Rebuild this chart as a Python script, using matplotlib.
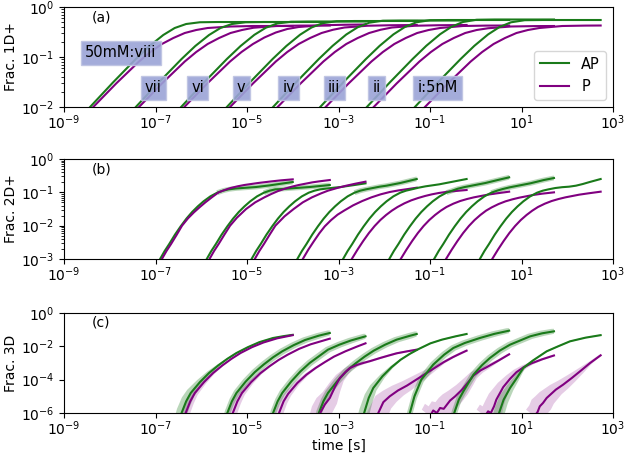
import numpy as np
import matplotlib
matplotlib.use("Agg")
import matplotlib.pyplot as plt
from matplotlib.ticker import NullLocator, LogLocator

conc = ["viii", "vii", "vi", "v", "iv", "iii", "ii", "i"]

# ---------------- panel (a): Frac. 1D+  (log10 time, log10 fraction)
A_AP_T = [
    [-8.93, -8.43, -7.93, -7.43, -7.13, -6.83, -6.58, -6.33, -6.03, -5.63, -4.00],
    [-7.93, -7.43, -6.93, -6.43, -6.13, -5.83, -5.58, -5.33, -5.03, -4.63, -3.19],
    [-6.94, -6.44, -5.94, -5.44, -5.14, -4.84, -4.59, -4.34, -4.04, -3.64, -2.41],
    [-5.94, -5.44, -4.94, -4.44, -4.14, -3.84, -3.59, -3.34, -3.04, -2.64, -1.29],
    [-4.93, -4.43, -3.93, -3.43, -3.13, -2.83, -2.58, -2.33, -2.03, -1.63, -0.20],
    [-3.90, -3.40, -2.90, -2.40, -2.10, -1.80, -1.55, -1.30, -1.00, -0.60, 0.73],
    [-2.88, -2.38, -1.88, -1.38, -1.08, -0.78, -0.53, -0.28, 0.02, 0.42, 1.71],
    [-1.83, -1.33, -0.83, -0.33, -0.03, 0.27, 0.52, 0.77, 1.07, 1.47, 2.73],
]
A_AP_Y = [
    [-2.5, -2.0, -1.51, -1.04, -0.78, -0.56, -0.42, -0.34, -0.305, -0.30, -0.30],
    [-2.5, -2.0, -1.51, -1.04, -0.78, -0.56, -0.42, -0.34, -0.305, -0.30, -0.30],
    [-2.5, -2.0, -1.51, -1.04, -0.78, -0.557, -0.415, -0.33, -0.295, -0.29, -0.29],
    [-2.5, -2.0, -1.51, -1.04, -0.78, -0.554, -0.41, -0.322, -0.285, -0.28, -0.28],
    [-2.5, -2.0, -1.51, -1.04, -0.778, -0.55, -0.405, -0.314, -0.274, -0.27, -0.27],
    [-2.5, -2.0, -1.51, -1.04, -0.776, -0.548, -0.40, -0.306, -0.264, -0.26, -0.26],
    [-2.5, -2.0, -1.51, -1.04, -0.775, -0.545, -0.395, -0.30, -0.255, -0.25, -0.25],
    [-2.5, -2.0, -1.51, -1.04, -0.776, -0.548, -0.40, -0.306, -0.264, -0.26, -0.26],
]
A_P_T = [
    [-8.86, -8.36, -7.86, -7.36, -7.11, -6.86, -6.61, -6.36, -6.11, -5.86, -5.36, -4.86, -4.00],
    [-7.86, -7.36, -6.86, -6.36, -6.11, -5.86, -5.61, -5.36, -5.11, -4.86, -4.36, -3.86, -3.19],
    [-6.87, -6.37, -5.87, -5.37, -5.12, -4.87, -4.62, -4.37, -4.12, -3.87, -3.37, -2.87, -2.41],
    [-5.87, -5.37, -4.87, -4.37, -4.12, -3.87, -3.62, -3.37, -3.12, -2.87, -2.37, -1.87, -1.29],
    [-4.83, -4.33, -3.83, -3.33, -3.08, -2.83, -2.58, -2.33, -2.08, -1.83, -1.33, -0.83, -0.20],
    [-3.78, -3.28, -2.78, -2.28, -2.03, -1.78, -1.53, -1.28, -1.03, -0.78, -0.28, 0.22, 0.73],
    [-2.73, -2.23, -1.73, -1.23, -0.98, -0.73, -0.48, -0.23, 0.02, 0.27, 0.77, 1.27, 1.71],
    [-1.61, -1.11, -0.61, -0.11, 0.14, 0.39, 0.64, 0.89, 1.14, 1.39, 1.89, 2.39, 2.73],
]
A_P_Y = [
    [-2.48, -2.0, -1.53, -1.09, -0.90, -0.74, -0.62, -0.52, -0.46, -0.42, -0.39, -0.38, -0.38],
    [-2.48, -2.0, -1.53, -1.09, -0.90, -0.74, -0.62, -0.52, -0.46, -0.415, -0.38, -0.372, -0.37],
    [-2.48, -2.0, -1.53, -1.09, -0.90, -0.74, -0.61, -0.51, -0.44, -0.40, -0.365, -0.355, -0.35],
    [-2.48, -2.0, -1.53, -1.09, -0.90, -0.74, -0.62, -0.52, -0.455, -0.41, -0.375, -0.365, -0.36],
    [-2.48, -2.0, -1.53, -1.09, -0.90, -0.74, -0.62, -0.52, -0.455, -0.41, -0.375, -0.365, -0.36],
    [-2.48, -2.0, -1.53, -1.09, -0.90, -0.74, -0.62, -0.52, -0.46, -0.42, -0.38, -0.372, -0.37],
    [-2.48, -2.0, -1.53, -1.09, -0.90, -0.74, -0.62, -0.52, -0.46, -0.425, -0.39, -0.382, -0.38],
    [-2.48, -2.0, -1.53, -1.09, -0.90, -0.74, -0.62, -0.52, -0.46, -0.42, -0.38, -0.372, -0.37],
]

# ---------------- panel (b): Frac. 2D+
B_AP_T = [
    [-7.05, -6.90, -6.80, -6.70, -6.575, -6.45, -6.325, -6.20, -6.075, -5.95, -5.80, -5.65,
     -5.525, -5.40, -5.25, -5.10, -4.95, -4.80, -4.65, -4.50, -4.35, -4.20, -4.00],
    [-6.03, -5.88, -5.78, -5.68, -5.555, -5.43, -5.305, -5.18, -5.055, -4.93, -4.78, -4.63,
     -4.505, -4.38, -4.23, -4.08, -3.93, -3.78, -3.63, -3.48, -3.33, -3.19],
    [-5.05, -4.90, -4.80, -4.70, -4.575, -4.45, -4.325, -4.20, -4.075, -3.95, -3.80, -3.65,
     -3.525, -3.40, -3.25, -3.10, -2.95, -2.80, -2.65, -2.41],
    [-4.05, -3.90, -3.80, -3.70, -3.575, -3.45, -3.325, -3.20, -3.075, -2.95, -2.80, -2.65,
     -2.525, -2.40, -2.25, -2.10, -1.95, -1.80, -1.65, -1.50, -1.29],
    [-3.05, -2.90, -2.80, -2.70, -2.575, -2.45, -2.325, -2.20, -2.075, -1.95, -1.80, -1.65,
     -1.525, -1.40, -1.25, -1.10, -0.95, -0.80, -0.65, -0.50, -0.35, -0.20],
    [-2.04, -1.89, -1.79, -1.69, -1.565, -1.44, -1.315, -1.19, -1.065, -0.94, -0.79, -0.64,
     -0.515, -0.39, -0.24, -0.09, 0.06, 0.21, 0.36, 0.51, 0.73],
    [-1.06, -0.91, -0.81, -0.71, -0.585, -0.46, -0.335, -0.21, -0.085, 0.04, 0.19, 0.34,
     0.465, 0.59, 0.74, 0.89, 1.04, 1.19, 1.34, 1.49, 1.71],
    [-0.06, 0.09, 0.19, 0.29, 0.415, 0.54, 0.665, 0.79, 0.915, 1.04, 1.19, 1.34,
     1.465, 1.59, 1.74, 1.89, 2.04, 2.19, 2.34, 2.49, 2.73],
]
B_AP_Y = [
    [-3.4, -3.0, -2.76, -2.55, -2.27, -2.02, -1.79, -1.59, -1.42, -1.27, -1.12, -1.01,
     -0.95, -0.91, -0.885, -0.87, -0.855, -0.84, -0.815, -0.79, -0.76, -0.73, -0.69],
    [-3.4, -3.0, -2.76, -2.55, -2.27, -2.02, -1.79, -1.59, -1.42, -1.27, -1.12, -1.01,
     -0.95, -0.91, -0.90, -0.885, -0.87, -0.855, -0.84, -0.82, -0.80, -0.78],
    [-3.4, -3.0, -2.76, -2.55, -2.27, -2.02, -1.79, -1.59, -1.42, -1.27, -1.12, -1.01,
     -0.95, -0.91, -0.885, -0.86, -0.84, -0.81, -0.78, -0.73],
    [-3.4, -3.0, -2.76, -2.55, -2.27, -2.02, -1.79, -1.59, -1.42, -1.27, -1.12, -1.01,
     -0.95, -0.91, -0.87, -0.83, -0.80, -0.76, -0.72, -0.67, -0.60],
    [-3.4, -3.0, -2.76, -2.55, -2.27, -2.02, -1.79, -1.59, -1.42, -1.27, -1.12, -1.01,
     -0.95, -0.91, -0.86, -0.82, -0.79, -0.76, -0.72, -0.68, -0.64, -0.60],
    [-3.4, -3.0, -2.76, -2.55, -2.27, -2.02, -1.79, -1.59, -1.42, -1.27, -1.12, -1.01,
     -0.95, -0.89, -0.84, -0.80, -0.76, -0.72, -0.67, -0.62, -0.55],
    [-3.4, -3.0, -2.76, -2.55, -2.27, -2.02, -1.79, -1.59, -1.42, -1.27, -1.12, -1.01,
     -0.95, -0.90, -0.85, -0.81, -0.77, -0.73, -0.68, -0.63, -0.57],
    [-3.4, -3.0, -2.76, -2.55, -2.27, -2.02, -1.79, -1.59, -1.42, -1.27, -1.12, -1.01,
     -0.95, -0.91, -0.87, -0.845, -0.83, -0.80, -0.75, -0.69, -0.60],
]
B_P_T = [
    [-7.01, -6.86, -6.76, -6.66, -6.54, -6.42, -6.29, -6.16, -6.03, -5.91, -5.76, -5.62,
     -5.49, -5.36, -5.21, -5.06, -4.91, -4.76, -4.61, -4.46, -4.26, -4.00],
    [-5.97, -5.82, -5.72, -5.62, -5.495, -5.37, -5.22, -5.02, -4.82, -4.62, -4.47, -4.32,
     -4.17, -4.02, -3.87, -3.72, -3.57, -3.42, -3.19],
    [-4.98, -4.83, -4.73, -4.63, -4.505, -4.38, -4.18, -3.98, -3.78, -3.58, -3.38, -3.23,
     -3.03, -2.83, -2.63, -2.41],
    [-3.93, -3.78, -3.66, -3.54, -3.42, -3.30, -3.16, -3.02, -2.88, -2.68, -2.48, -2.28,
     -2.08, -1.88, -1.68, -1.48, -1.29],
    [-2.86, -2.71, -2.585, -2.46, -2.335, -2.21, -2.085, -1.96, -1.835, -1.71, -1.56, -1.41,
     -1.26, -1.11, -0.96, -0.81, -0.61, -0.20],
    [-1.79, -1.64, -1.515, -1.39, -1.265, -1.14, -1.015, -0.89, -0.765, -0.64, -0.49, -0.34,
     -0.19, -0.04, 0.11, 0.26, 0.46, 0.73],
    [-0.80, -0.65, -0.525, -0.40, -0.275, -0.15, -0.025, 0.10, 0.225, 0.35, 0.50, 0.65,
     0.80, 0.95, 1.10, 1.25, 1.45, 1.71],
    [0.21, 0.36, 0.485, 0.61, 0.735, 0.86, 0.985, 1.11, 1.235, 1.36, 1.51, 1.66,
     1.81, 1.96, 2.11, 2.26, 2.46, 2.73],
]
B_P_Y = [
    [-3.4, -3.0, -2.76, -2.55, -2.28, -2.0, -1.78, -1.6, -1.44, -1.3, -1.14, -1.0,
     -0.93, -0.87, -0.82, -0.78, -0.75, -0.72, -0.695, -0.67, -0.64, -0.61],
    [-3.4, -3.0, -2.76, -2.55, -2.27, -2.0, -1.76, -1.5, -1.3, -1.15, -1.05, -0.96,
     -0.89, -0.83, -0.78, -0.74, -0.70, -0.67, -0.63],
    [-3.4, -3.0, -2.76, -2.55, -2.27, -2.0, -1.72, -1.5, -1.3, -1.15, -1.03, -0.95,
     -0.87, -0.80, -0.74, -0.68],
    [-3.4, -3.0, -2.72, -2.47, -2.23, -2.02, -1.83, -1.67, -1.55, -1.39, -1.26, -1.15,
     -1.06, -0.99, -0.94, -0.90, -0.86],
    [-3.35, -3.0, -2.72, -2.46, -2.22, -2.01, -1.83, -1.68, -1.55, -1.44, -1.33, -1.24,
     -1.17, -1.11, -1.06, -1.02, -0.98, -0.93],
    [-3.35, -3.0, -2.72, -2.46, -2.22, -2.01, -1.83, -1.68, -1.55, -1.44, -1.34, -1.26,
     -1.20, -1.15, -1.11, -1.07, -1.03, -0.98],
    [-3.35, -3.0, -2.72, -2.46, -2.22, -2.01, -1.83, -1.68, -1.55, -1.45, -1.35, -1.27,
     -1.21, -1.16, -1.12, -1.08, -1.04, -1.00],
    [-3.35, -3.0, -2.72, -2.46, -2.22, -2.01, -1.83, -1.68, -1.55, -1.44, -1.34, -1.26,
     -1.20, -1.15, -1.11, -1.07, -1.03, -0.98],
]

# ---------------- panel (c): Frac. 3D
C_AP_T = [
    [-6.48, -6.43, -6.33, -6.23, -6.03, -5.83, -5.63, -5.43, -5.23, -4.98, -4.73, -4.43, -4.18, -4.00],
    [-5.48, -5.43, -5.33, -5.23, -5.03, -4.83, -4.63, -4.43, -4.23, -3.98, -3.73, -3.43, -3.19],
    [-4.48, -4.43, -4.33, -4.23, -4.03, -3.83, -3.63, -3.43, -3.23, -2.98, -2.73, -2.41],
    [-3.48, -3.43, -3.33, -3.23, -3.03, -2.83, -2.63, -2.43, -2.23, -1.98, -1.73, -1.43, -1.29],
    [-2.49, -2.44, -2.34, -2.24, -2.04, -1.84, -1.64, -1.44, -1.24, -0.99, -0.74, -0.44, -0.20],
    [-1.49, -1.44, -1.34, -1.19, -0.93, -0.69, -0.49, -0.24, 0.09, 0.41, 0.73],
    [-0.52, -0.47, -0.37, -0.27, -0.05, 0.13, 0.31, 0.53, 0.75, 1.19, 1.45, 1.71],
    [0.46, 0.51, 0.61, 0.75, 0.91, 1.04, 1.25, 1.55, 1.80, 2.06, 2.40, 2.73],
]
C_AP_Y = [
    [-6.5, -6.0, -5.3, -4.8, -4.15, -3.6, -3.15, -2.75, -2.4, -2.05, -1.75, -1.5, -1.38, -1.31],
    [-6.5, -6.0, -5.3, -4.8, -4.12, -3.55, -3.08, -2.66, -2.3, -1.93, -1.62, -1.36, -1.2],
    [-6.5, -6.0, -5.3, -4.8, -4.1, -3.5, -3.0, -2.6, -2.2, -1.9, -1.65, -1.4],
    [-6.5, -6.0, -5.3, -4.8, -4.1, -3.5, -3.03, -2.62, -2.26, -1.9, -1.6, -1.36, -1.26],
    [-6.5, -6.0, -5.1, -4.5, -3.8, -3.25, -2.8, -2.45, -2.15, -1.82, -1.6, -1.4, -1.26],
    [-6.5, -6.0, -5.0, -4.0, -3.1, -2.5, -2.1, -1.8, -1.5, -1.25, -1.06],
    [-6.5, -6.0, -5.2, -4.7, -3.7, -3.15, -2.7, -2.25, -1.9, -1.4, -1.22, -1.1],
    [-6.5, -6.0, -5.2, -4.5, -3.85, -3.3, -2.85, -2.3, -2.0, -1.7, -1.48, -1.33],
]
C_P_T = [
    [-6.39, -6.34, -6.24, -6.14, -5.94, -5.74, -5.54, -5.34, -5.14, -4.89, -4.64, -4.34, -4.00],
    [-5.36, -5.31, -5.21, -5.11, -4.91, -4.71, -4.51, -4.31, -4.11, -3.86, -3.61, -3.19],
    [-4.35, -4.30, -4.20, -4.10, -3.90, -3.70, -3.50, -3.30, -3.10, -2.85, -2.60, -2.41],
    [-3.45, -3.40, -3.30, -3.19, -3.08, -2.97, -2.85, -2.75, -2.60, -2.46, -2.30, -2.09, -1.90, -1.73, -1.50, -1.29],
    [-2.20, -2.13, -2.02, -1.88, -1.70, -1.50, -1.30, -1.10, -0.90, -0.70, -0.50, -0.35, -0.20],
    [-1.00, -0.93, -0.85, -0.78, -0.70, -0.63, -0.56, -0.45, -0.30, -0.15, -0.05, 0.10, 0.24, 0.50, 0.73],
    [0.20, 0.27, 0.33, 0.40, 0.45, 0.52, 0.60, 0.75, 0.89, 1.05, 1.22, 1.45, 1.71],
    [1.28, 1.35, 1.40, 1.47, 1.55, 1.65, 1.75, 1.91, 2.10, 2.28, 2.50, 2.73],
]
C_P_Y = [
    [-6.5, -6.0, -5.3, -4.8, -4.15, -3.6, -3.15, -2.75, -2.4, -2.05, -1.77, -1.52, -1.33],
    [-6.5, -6.0, -5.3, -4.8, -4.15, -3.62, -3.2, -2.82, -2.5, -2.15, -1.88, -1.54],
    [-6.5, -6.0, -5.3, -4.85, -4.2, -3.7, -3.3, -2.95, -2.62, -2.3, -2.02, -1.82],
    [-6.5, -6.0, -5.5, -5.1, -4.45, -3.9, -3.55, -3.3, -3.12, -3.0, -2.88, -2.7, -2.55, -2.42, -2.3, -2.2],
    [-6.4, -6.0, -5.35, -5.0, -4.65, -4.35, -4.0, -3.65, -3.3, -2.95, -2.65, -2.45, -2.26],
    [-6.2, -5.85, -6.0, -5.7, -5.75, -5.5, -5.25, -5.0, -4.6, -4.1, -3.75, -3.45, -3.25, -2.85, -2.48],
    [-6.2, -5.9, -6.0, -5.6, -5.2, -4.85, -4.45, -3.95, -3.55, -3.25, -3.02, -2.78, -2.55],
    [-6.2, -5.95, -5.6, -5.4, -5.1, -4.85, -4.6, -4.3, -3.9, -3.5, -3.0, -2.54],
]

# concentration labels in panel (a)
label_text = ["50mM:viii", "vii", "vi", "v", "iv", "iii", "ii", "i:5nM"]
label_logt = [-8.54, -7.23, -6.22, -5.22, -4.23, -3.23, -2.25, -1.28]
label_logy = [-0.92, -1.62, -1.62, -1.62, -1.62, -1.62, -1.62, -1.62]

# which series carry a wide confidence band
bands_b_AP = [0, 1, 3, 5, 6]
bands_c_AP = [1, 2, 3, 5, 6]
bands_c_P = [3, 4, 5, 6, 7]

GREEN = "#1a7a1a"
PURPLE = "#800080"


def band(ax, T, Y, a, b, color, alpha, ymin=None, taper=False):
    T = np.asarray(T, float)
    Y = np.asarray(Y, float)
    if ymin is not None:
        keep = Y >= ymin
        T, Y = T[keep], Y[keep]
    if taper:
        f = np.clip((-Y - 2.5) / 3.0, 0.12, 1.0)
        a = a * f
        b = b * f
    else:
        a = np.full_like(T, a)
        b = np.full_like(T, b)
    up_t = np.append(T - a, T[-1])
    up_y = np.append(Y + b, Y[-1] + b[-1])
    lo_t = np.minimum(T + a, T[-1])
    lo_y = Y - b
    xs = np.concatenate([up_t, lo_t[::-1]])
    ys = np.concatenate([up_y, lo_y[::-1]])
    ax.fill(10 ** xs, 10 ** ys, color=color, alpha=alpha, lw=0, zorder=1)


def line(ax, T, Y, color, label=None):
    ax.plot(10 ** np.asarray(T), 10 ** np.asarray(Y), color=color, lw=1.5,
            label=label, zorder=3)


fig = plt.figure(figsize=(6.25, 4.58), dpi=100)
L, W = 0.1024, 0.8784
ax_a = fig.add_axes([L, 0.7664, W, 0.2183])
ax_b = fig.add_axes([L, 0.4345, W, 0.2183])
ax_c = fig.add_axes([L, 0.0983, W, 0.2183])

for k in range(8):
    line(ax_a, A_AP_T[k], A_AP_Y[k], GREEN, "AP" if k == 0 else None)
    line(ax_a, A_P_T[k], A_P_Y[k], PURPLE, "P" if k == 0 else None)

    if k in bands_b_AP:
        band(ax_b, B_AP_T[k], B_AP_Y[k], 0.02, 0.07, GREEN, 0.3, ymin=-1.05)
    line(ax_b, B_AP_T[k], B_AP_Y[k], GREEN)
    line(ax_b, B_P_T[k], B_P_Y[k], PURPLE)

    if k in bands_c_AP:
        band(ax_c, C_AP_T[k], C_AP_Y[k], 0.05, 0.15, GREEN, 0.3)
    else:
        band(ax_c, C_AP_T[k], C_AP_Y[k], 0.1, 0.25, GREEN, 0.3, taper=True)
    if k in bands_c_P:
        band(ax_c, C_P_T[k], C_P_Y[k], 0.18, 0.4, PURPLE, 0.2, taper=True)
    else:
        band(ax_c, C_P_T[k], C_P_Y[k], 0.08, 0.15, PURPLE, 0.2, taper=True)
    line(ax_c, C_AP_T[k], C_AP_Y[k], GREEN)
    line(ax_c, C_P_T[k], C_P_Y[k], PURPLE)

for txt, lt, ly in zip(label_text, label_logt, label_logy):
    ax_a.text(10 ** lt, 10 ** ly, txt, ha="left", va="center", fontsize=10.5,
              zorder=5,
              bbox=dict(boxstyle="square,pad=0.3", fc="#9aa3d6", ec="#bfc4e2",
                        alpha=0.9))

ax_a.legend(loc="lower right", fontsize=10.5)

xt = [10.0 ** e for e in range(-9, 4, 2)]
for ax, lo, lab, pl in [(ax_a, 1e-2, "Frac. 1D+", "(a)"),
                        (ax_b, 1e-3, "Frac. 2D+", "(b)"),
                        (ax_c, 1e-6, "Frac. 3D", "(c)")]:
    ax.set_xscale("log")
    ax.set_yscale("log")
    ax.set_xlim(1e-9, 1e3)
    ax.set_ylim(lo, 1.0)
    ax.set_xticks(xt)
    ax.xaxis.set_minor_locator(NullLocator())
    ax.tick_params(axis="x", pad=1)
    ax.set_ylabel(lab, labelpad=2)
    ax.text(0.05, 0.9, pl, transform=ax.transAxes, va="center", ha="left",
            fontsize=10)

ax_a.yaxis.set_major_locator(LogLocator(base=10, numticks=10))
ax_b.yaxis.set_major_locator(LogLocator(base=10, numticks=10))
ax_c.set_yticks([1e-6, 1e-4, 1e-2, 1e0])
ax_c.yaxis.set_minor_locator(NullLocator())
ax_c.set_xlabel("time [s]", labelpad=1)

fig.savefig("out.png", dpi=100)
